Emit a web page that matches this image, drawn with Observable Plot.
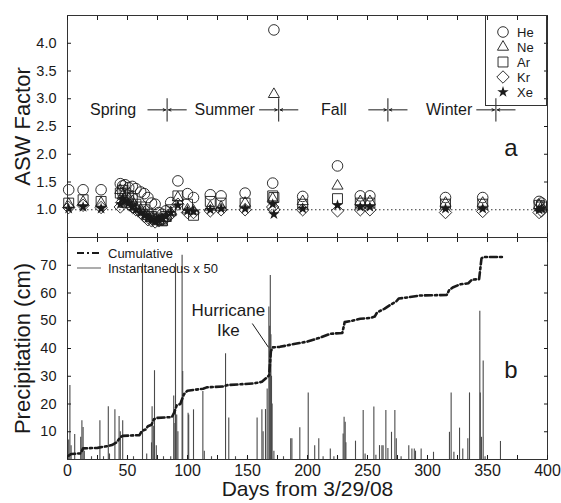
<!DOCTYPE html>
<html><head><meta charset="utf-8">
<script src="https://cdn.jsdelivr.net/npm/d3@7"></script>
<script src="https://cdn.jsdelivr.net/npm/@observablehq/plot@0.6"></script>
<style>
html,body{margin:0;padding:0;background:#fff;}
#chart{position:relative;width:561px;height:503px;font-family:"Liberation Sans",Arial,sans-serif;}
#chart > svg, #chart figure{display:block;margin:0;}
#overlay{position:absolute;left:0;top:0;pointer-events:none;}
</style></head><body><div id="chart"></div>
<script>
// ---------- Panel a: ASW factors ----------
const sampleDays = [1, 13, 28, 44, 46, 48, 51, 54, 57, 61, 64, 67, 70, 73, 76, 79, 82, 86, 92, 100, 105, 119, 128, 148, 171, 172, 196, 225, 244, 252, 315, 346, 393, 395];
const He = [1.36, 1.36, 1.36, 1.47, 1.43, 1.45, 1.40, 1.42, 1.38, 1.32, 1.29, 1.22, 1.12, 1.10, 0.95, 0.92, 0.98, 1.13, 1.52, 1.29, 1.22, 1.27, 1.25, 1.30, 1.48, 4.24, 1.24, 1.79, 1.25, 1.25, 1.22, 1.22, 1.15, 1.12];
const Ne = [1.10, 1.14, 1.12, 1.35, 1.25, 1.10, 1.20, 1.15, 1.05, 1.00, 0.95, 0.88, 0.85, 0.82, 0.80, 0.78, 0.85, 0.95, 1.22, 1.00, 0.98, 1.05, 1.05, 1.12, 1.20, 3.08, 1.15, 1.43, 1.15, 1.15, 1.12, 1.12, 1.08, 1.05];
const Ar = [1.12, 1.18, 1.15, 1.30, 1.35, 1.30, 1.25, 1.20, 1.10, 1.05, 1.00, 0.92, 0.88, 0.85, 0.82, 0.80, 0.88, 1.00, 1.25, 1.10, 0.90, 1.15, 1.12, 1.12, 1.25, 1.22, 1.10, 1.20, 1.12, 1.12, 1.10, 1.10, 1.08, 1.05];
const Kr = [1.04, 1.08, 1.04, 1.05, 1.15, 1.20, 1.10, 1.05, 1.00, 0.95, 0.88, 0.82, 0.80, 0.78, 0.80, 0.82, 0.85, 0.92, 1.10, 0.95, 0.95, 0.98, 1.00, 1.00, 1.05, 1.00, 1.00, 0.98, 1.00, 1.00, 0.95, 0.97, 0.95, 0.98];
const Xe = [1.02, 1.05, 1.02, 1.10, 1.20, 1.15, 1.12, 1.05, 1.00, 0.95, 0.90, 0.85, 0.82, 0.80, 0.82, 0.85, 0.88, 0.95, 1.08, 0.98, 0.97, 1.00, 1.02, 1.02, 1.10, 0.92, 1.02, 1.08, 1.05, 1.05, 1.02, 1.02, 1.00, 1.02];
const gases = ["He", "Ne", "Ar", "Kr", "Xe"];
const gasSymbols = ["circle", "triangle2", "square", "diamond2", "star"];

const seasonNames = ["Spring", "Summer", "Fall", "Winter"];
const seasonLabelDays = [38, 131, 222, 318];
const seasonBoundaries = [83, 176, 267, 357];
const seasonLevel = 2.8;

// ---------- Panel b: precipitation ----------
const cumDays = [1, 3, 11, 13, 25, 33, 37, 41, 44, 46, 60, 62, 65, 67, 70, 72, 75, 87, 89, 91, 94, 97, 100, 113, 116, 130, 133, 155, 162, 166, 168, 169.5, 171, 177, 191, 200, 211, 219, 229, 231, 236, 244, 252, 256, 258, 264, 270, 274, 276, 283, 294, 316, 318, 321, 327, 334, 337, 343, 345, 347, 362];
const cumVals = [1.4, 2, 2.2, 4, 4.2, 4.8, 5.2, 6.2, 8, 8.5, 8.8, 10.3, 10.8, 12, 12.5, 14.5, 15, 15.3, 17, 19.5, 20, 23.5, 24.8, 25.5, 26, 26.3, 26.8, 27.4, 28, 29.5, 30.3, 39, 40.4, 40.6, 41.8, 42.5, 44, 45.3, 45.6, 49.5, 49.9, 50.7, 51, 51.5, 53, 54.3, 56, 57, 58, 58.4, 59.1, 59.3, 61, 62, 63.1, 63.5, 64.8, 65, 72.5, 73, 73];

const instDays = [1, 2, 3, 6, 11, 12, 13, 14, 20, 27, 30, 34, 35, 39.5, 43, 44, 46, 50, 55, 62.5, 66, 70, 70.5, 71.5, 72.5, 74, 80, 86, 88.5, 89.5, 90, 91, 92, 95.5, 96, 100.5, 101, 105, 112.8, 114, 120, 131.7, 134.4, 140, 150, 158, 162, 163, 165, 166.4, 167.8, 168.5, 169, 169.5, 170, 170.5, 172, 180, 186, 187, 193.6, 200.6, 206, 209.4, 213, 219, 222, 225, 229.7, 230.5, 231.4, 232, 240, 246.4, 248, 255.3, 257, 260, 262, 263, 265.3, 267, 270, 272.8, 274, 278, 284.4, 287, 289, 290, 294.7, 305, 318.3, 319.7, 322, 326.7, 329.4, 333.6, 335, 343.6, 344, 345, 346.4, 348, 360.8];
const instVals = [7, 26.7, 5, 9, 8, 14, 11.5, 3, 1, 14, 1, 19, 2, 17.9, 15.5, 10, 14, 1, 1, 70.6, 2, 6, 19, 12, 32, 5, 1, 1, 22.9, 13, 70.6, 16, 10, 73.6, 31.7, 16.7, 16, 17.9, 24.5, 3, 1, 38.1, 15, 1, 1, 15, 17.9, 10, 18, 25.4, 55, 48, 66.3, 45, 30, 20, 3, 1, 7.5, 7.5, 11.4, 24, 5, 7.5, 1, 3.8, 1, 1, 9.2, 15.2, 13.4, 6, 6.6, 17.7, 2, 18.9, 1.5, 5, 5, 5, 17.7, 4, 9.8, 17.7, 7.5, 1, 5, 3.8, 3.8, 3, 3.8, 2.6, 9.8, 24, 2.6, 11.3, 3.8, 7.5, 24, 53.4, 24, 8, 35.5, 1, 6.5];

// ---------- ticks ----------
const xTickLabels = [0, 50, 100, 150, 200, 250, 300, 350, 400];
const xMinorTicks = d3.range(0, 401, 25);
const aTicks = [1.0, 1.5, 2.0, 2.5, 3.0, 3.5, 4.0];
const bTicks = [10, 20, 30, 40, 50, 60, 70];

// ---------- derived tables ----------
const gasSeries = {He, Ne, Ar, Kr, Xe};
const asw = gases.flatMap(g => sampleDays.map((day, i) => ({gas: g, day, value: gasSeries[g][i]})));
const cum = cumDays.map((day, i) => ({day, value: cumVals[i]}));
const inst = instDays.map((day, i) => ({day, value: instVals[i]}));
const seasonArrows = seasonBoundaries.flatMap(b => [
  {x1: b - 16, x2: b - 1.2, y: seasonLevel},
  {x1: b + 16, x2: b + 1.2, y: seasonLevel}
]);

const FONT = "'Liberation Sans', Arial, Helvetica, sans-serif";
const INK = "#1a1a1a";
const noText = () => "";

const gasR = {He: 5.3, Ne: 5.3, Ar: 5.6, Kr: 5.6, Xe: 3.6};
const dotMarks = gases.map((g, k) => Plot.dot(asw.filter(d => d.gas === g), {
  x: "day", y: "value", symbol: gasSymbols[k], r: gasR[g],
  stroke: g === "Xe" ? "none" : INK, fill: g === "Xe" ? INK : "none", strokeWidth: 0.9
}));

const plotA = Plot.plot({
  width: 561, height: 237,
  marginTop: 15, marginBottom: 0, marginLeft: 67, marginRight: 14,
  x: {domain: [0, 400]},
  y: {domain: [0.5, 4.5]},
  style: {fontFamily: FONT, fontSize: "14px", color: INK, background: "white"},
  marks: [
    Plot.ruleY([1], {stroke: "#333", strokeDasharray: "1.5,2.5", strokeWidth: 1}),
    ...dotMarks,
    Plot.ruleX(seasonBoundaries, {x: d => d, y1: seasonLevel - 0.22, y2: seasonLevel + 0.2, stroke: INK, strokeWidth: 1}),
    Plot.arrow(seasonArrows, {x1: "x1", x2: "x2", y1: "y", y2: "y", headLength: 4, headAngle: 50, stroke: INK, strokeWidth: 1}),
    Plot.text(seasonNames, {x: (d, i) => seasonLabelDays[i], y: seasonLevel, text: d => d, fontSize: 16}),
    Plot.text(["a"], {frameAnchor: "right", dx: -30, dy: 22, fontSize: 24}),
    Plot.text(["ASW Factor"], {frameAnchor: "left", textAnchor: "middle", lineAnchor: "middle", rotate: -90, dx: -45, fontSize: 22}),
    Plot.frame({stroke: "#333"}),
    Plot.axisY(aTicks, {anchor: "left", tickSize: 0, tickPadding: 11, tickFormat: d3.format(".1f"), fontSize: 14.5, label: null}),
    Plot.axisY(aTicks, {anchor: "left", tickSize: -4, tickFormat: noText, label: null}),
    Plot.axisY(aTicks, {anchor: "right", tickSize: -4, tickFormat: noText, label: null}),
    Plot.axisX(xMinorTicks, {anchor: "top", tickSize: -4, tickFormat: noText, label: null}),
    Plot.axisX(xMinorTicks, {anchor: "bottom", tickSize: -4, tickFormat: noText, label: null})
  ]
});

const plotB = Plot.plot({
  width: 561, height: 266,
  marginTop: 0, marginBottom: 44, marginLeft: 67, marginRight: 14,
  x: {domain: [0, 400]},
  y: {domain: [0, 80]},
  style: {fontFamily: FONT, fontSize: "14px", color: INK, background: "white"},
  marks: [
    Plot.ruleX(inst, {x: "day", y1: 0, y2: "value", stroke: "#4a4a4a", strokeWidth: 1.1}),
    Plot.line(cum, {x: "day", y: "value", stroke: INK, strokeWidth: 2.6, strokeDasharray: "7,3,2,3"}),
    Plot.text(["Hurricane\nIke"], {x: 134, y: 50.3, fontSize: 17, lineHeight: 1.12}),
    Plot.link([{x1: 154, y1: 49, x2: 167.5, y2: 40.4}], {x1: "x1", y1: "y1", x2: "x2", y2: "y2", stroke: INK, strokeWidth: 1}),
    Plot.text(["b"], {frameAnchor: "right", dx: -30, dy: 22, fontSize: 24}),
    Plot.text(["Precipitation (cm)"], {frameAnchor: "left", textAnchor: "middle", lineAnchor: "middle", rotate: -90, dx: -45, fontSize: 22}),
    Plot.text(["Days from 3/29/08"], {frameAnchor: "bottom", lineAnchor: "middle", dy: 30, fontSize: 21}),
    Plot.frame({stroke: "#333"}),
    Plot.axisY(bTicks, {anchor: "left", tickSize: 0, tickPadding: 11, fontSize: 14.5, label: null}),
    Plot.axisY(bTicks, {anchor: "left", tickSize: -4, tickFormat: noText, label: null}),
    Plot.axisY(bTicks, {anchor: "right", tickSize: -4, tickFormat: noText, label: null}),
    Plot.axisX(xTickLabels, {anchor: "bottom", tickSize: 0, tickPadding: 5, fontSize: 16, label: null}),
    Plot.axisX(xMinorTicks, {anchor: "bottom", tickSize: -4, tickFormat: noText, label: null}),
    Plot.axisX(xMinorTicks, {anchor: "top", tickSize: -4, tickFormat: noText, label: null})
  ]
});

const chart = document.getElementById("chart");
chart.appendChild(plotA);
chart.appendChild(plotB);

// ---------- legends (overlay) ----------
const ov = d3.select(chart).append("svg")
  .attr("id", "overlay").attr("width", 561).attr("height", 503)
  .style("font-family", FONT);

// panel a legend box
const lg = ov.append("g");
lg.append("rect").attr("x", 485.5).attr("y", 15.5).attr("width", 61).attr("height", 90)
  .attr("fill", "none").attr("stroke", "#333");
const d3Types = {circle: d3.symbolCircle, triangle2: d3.symbolTriangle2, square: d3.symbolSquare, diamond2: d3.symbolDiamond2, star: d3.symbolStar};
gases.forEach((g, i) => {
  const cy = 32 + i * 15;
  const r = gasR[g];
  lg.append("path")
    .attr("d", d3.symbol(d3Types[gasSymbols[i]], Math.PI * r * r)())
    .attr("transform", `translate(503,${cy})`)
    .attr("fill", g === "Xe" ? INK : "none")
    .attr("stroke", g === "Xe" ? "none" : INK).attr("stroke-width", 0.9);
  lg.append("text").attr("x", 517).attr("y", cy).attr("dy", "0.35em")
    .attr("font-size", 13).attr("fill", INK).text(g);
});

// panel b legend
const lb = ov.append("g");
lb.append("line").attr("x1", 77).attr("x2", 101).attr("y1", 253).attr("y2", 253)
  .attr("stroke", INK).attr("stroke-width", 2.2).attr("stroke-dasharray", "7,3,2,3");
lb.append("text").attr("x", 108).attr("y", 253).attr("dy", "0.35em").attr("font-size", 13).attr("fill", INK).text("Cumulative");
lb.append("line").attr("x1", 77).attr("x2", 101).attr("y1", 268).attr("y2", 268)
  .attr("stroke", "#777").attr("stroke-width", 1.2);
lb.append("text").attr("x", 108).attr("y", 268).attr("dy", "0.35em").attr("font-size", 13).attr("fill", INK).text("Instantaneous x 50");
</script></body></html>
